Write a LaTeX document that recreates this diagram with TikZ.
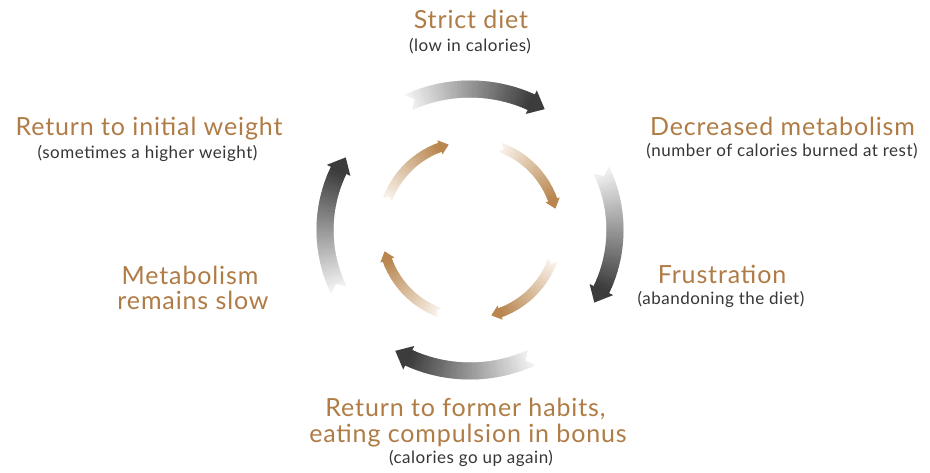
\documentclass[tikz,border=0pt]{standalone}
\usepackage{fontspec}
\setmainfont{Lato}
\newfontfamily\titlefont[LetterSpace=3.5]{Lato}
\newfontfamily\subfont[LetterSpace=3]{Lato}
\definecolor{tanc}{HTML}{B07C46}
\definecolor{subgray}{HTML}{363636}
\definecolor{outerhead}{HTML}{3C3C3C}
\definecolor{outertail}{HTML}{F3F3F3}
\definecolor{innerhead}{HTML}{B8864E}
\definecolor{innertail}{HTML}{FAF4ED}
% #1 rx, #2 ry, #3 shaft width, #4 head half width, #5 tail angle,
% #6 head base angle, #7 tip angle, #8 tail colour, #9 head colour
\newcommand\ringarrow[9]{%
  \foreach \i in {0,...,59}{%
    \pgfmathsetmacro\aa{#5+(#6-(#5))*\i/60}%
    \pgfmathsetmacro\bb{#5+(#6-(#5))*(\i+1)/60-0.4}%
    \pgfmathtruncatemacro\pp{round(100*\i/59)}%
    \draw[line width=#3, draw=#9!\pp!#8] (\aa:#1 and #2) arc[start angle=\aa, end angle=\bb, x radius=#1, y radius=#2];
  }%
  \fill[white] ({#5+0.6}:{#1+#3/2+1} and {#2+#3/2+1}) -- ({#5-2.5}:#1 and #2) -- ({#5+0.6}:{#1-#3/2-1} and {#2-#3/2-1}) -- cycle;
  \fill[#9] (#6:{#1+#4} and {#2+#4}) -- (#7:#1 and #2) -- (#6:{#1-#4} and {#2-#4}) -- cycle;
}
\tikzset{
  title/.style={text=tanc, font=\titlefont\fontsize{25}{27}\selectfont, anchor=base, inner sep=0pt},
  sub/.style={text=subgray, font=\subfont\fontsize{17}{19}\selectfont, anchor=base, inner sep=0pt}
}
\begin{document}
\begin{tikzpicture}[x=1pt, y=1pt]
\useasboundingbox (0,0) rectangle (930,473);
\fill[white] (0,0) rectangle (930,473);
\begin{scope}[shift={(470,243)}]
  % outer ring
  \foreach \t in {0,-90,-180,-270}{
    \ringarrow{145}{141}{17}{13}{115+\t}{65+\t}{59+\t}{outertail}{outerhead}
  }
  % inner ring
  \foreach \t in {0,-90,-180,-270}{
    \ringarrow{88}{88}{9.5}{7.5}{160+\t}{110+\t}{104+\t}{innertail}{innerhead}
  }
\end{scope}
% labels
\node[title] (t1) at (471,{473-28.3}) {Strict diet};
\node[sub]   (s1) at (470,{473-51.5}) {(low in calories)};
\node[title] (t2) at (782.5,{473-136}) {Decreased metabolism};
\node[sub]   (s2) at (782,{473-157}) {(number of calories burned at rest)};
\node[title] (t3) at (722,{473-283.3}) {Frustration};
\node[sub]   (s3) at (721,{473-305}) {(abandoning the diet)};
\node[title] (t4a) at (465.5,{473-416.7}) {Return to former habits,};
\node[title] (t4b) at (468,{473-442.3}) {eating compulsion in bonus};
\node[sub]   (s4) at (471,{473-464}) {(calories go up again)};
\node[title] (t5a) at (190,{473-285}) {Metabolism};
\node[title] (t5b) at (193,{473-310}) {remains slow};
\node[title] (t6) at (149,{473-136}) {Return to initial weight};
\node[sub]   (s6) at (147.5,{473-159}) {(sometimes a higher weight)};
\end{tikzpicture}
\end{document}
